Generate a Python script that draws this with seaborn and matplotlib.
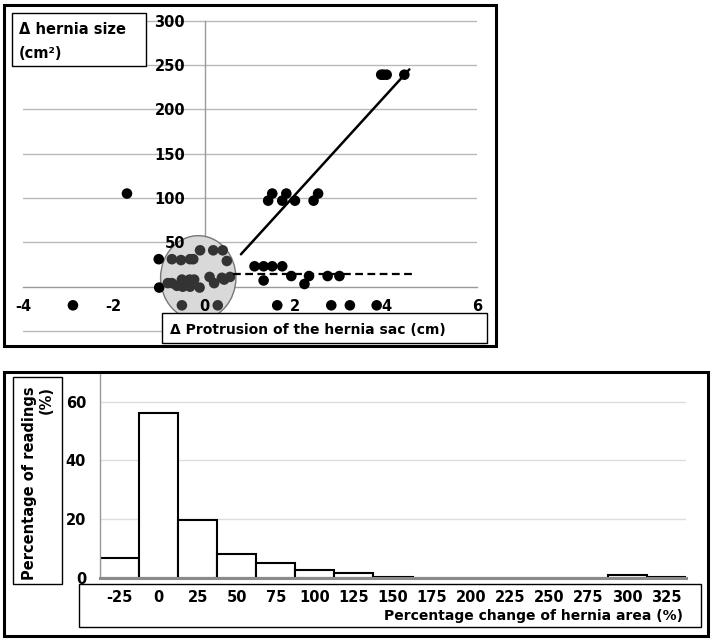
import matplotlib
matplotlib.use("Agg")
import matplotlib.pyplot as plt
from matplotlib.patches import Ellipse, Rectangle
import seaborn as sns

# ========================== Data ==================================
# top panel: change in protrusion (cm) vs change in hernia size (cm2)
circle_x = [-0.72, -0.52, -0.32, -0.25, -0.10, 0.19, 0.40, 0.49,
            -0.81, -0.72, -0.61, -0.50, -0.48, -0.33, -0.32, -0.23, -0.11,
            0.11, 0.21, 0.38, 0.43, 0.56, -0.50, 0.29]
circle_y = [31, 30, 31, 31, 41, 41, 41, 29,
            4, 4, 1, 8, 0, 8, 0, 8, -1,
            11, 4, 10, 8, 11, -21, -21]
other_x = [-2.90, -1.71, -1.01, -1.00,
           1.10, 1.30, 1.49, 1.71, 1.30, 1.91, 2.30, 2.20, 2.71, 2.97,
           1.60, 2.79, 3.20, 3.79,
           1.49, 1.40, 1.80, 1.71, 1.99, 2.40, 2.50,
           3.89, 3.94, 4.01, 4.40]
other_y = [-21, 105, 31, -1,
           23, 23, 23, 23, 7, 12, 12, 3, 12, 12,
           -21, -21, -21, -21,
           105, 97, 105, 97, 97, 97, 105,
           239, 239, 239, 239]
fit_up_x = [0.80, 4.51]
fit_up_y = [36.5, 245]
fit_flat_x = [0.63, 4.59]
fit_flat_y = [14.3, 14.3]
top_grid = [-50, 50, 100, 150, 200, 250, 300]

# bottom panel: histogram of percentage change of hernia area
bin_labels = ["-25", "0", "25", "50", "75", "100", "125", "150", "175",
              "200", "225", "250", "275", "300", "325"]
pct_readings = [6.6, 56.0, 19.7, 8.0, 5.1, 2.7, 1.6, 0.35, 0, 0, 0, 0, 0, 0.9, 0.35]

# ========================== Style =================================
sns.set_style("white")
plt.rcParams["font.family"] = ["DejaVu Sans"]
plt.rcParams["font.weight"] = "bold"
plt.rcParams["text.color"] = "black"
plt.rcParams["xtick.labelcolor"] = "black"
plt.rcParams["ytick.labelcolor"] = "black"

W, H = 713, 641
fig = plt.figure(figsize=(W / 100, H / 100), dpi=100)


def fx(px):
    return px / W


def fy(py):
    return 1 - py / H


def box(x0, y0, x1, y1, lw=1.0, fill=True):
    fig.patches.append(Rectangle((fx(x0), fy(y1)), fx(x1) - fx(x0), fy(y0) - fy(y1),
                                 transform=fig.transFigure, facecolor="white" if fill else "none",
                                 edgecolor="black", lw=lw, zorder=5))


# ========================== Top panel =============================
ax1 = fig.add_axes([fx(23), fy(339.9), fx(477) - fx(23), fy(13.5) - fy(339.9)])
ax1.set_xlim(-4, 6)
ax1.set_ylim(-60, 308)
ax1.set_axisbelow(False)

for g in top_grid:
    ax1.axhline(g, color="#b8b8b8", lw=1, zorder=1)

ax1.add_patch(Ellipse((-0.14, 10), 1.66, 95, facecolor="#d9d9d9",
                      edgecolor="#777777", lw=1, zorder=2))
sns.scatterplot(x=other_x, y=other_y, color="black", s=58, edgecolor="none",
                ax=ax1, zorder=3)
sns.scatterplot(x=circle_x, y=circle_y, color="#333333", s=58, edgecolor="none",
                ax=ax1, zorder=3)
sns.lineplot(x=fit_up_x, y=fit_up_y, color="black", lw=1.8, ax=ax1, zorder=4)
ax1.plot(fit_flat_x, fit_flat_y, color="black", lw=1.6, dashes=(3.5, 2), zorder=4)

for s in ["top", "right"]:
    ax1.spines[s].set_visible(False)
for s in ["left", "bottom"]:
    ax1.spines[s].set_position(("data", 0))
    ax1.spines[s].set_color("#999999")
    ax1.spines[s].set_linewidth(1)
    ax1.spines[s].set_zorder(1)
ax1.spines["left"].set_bounds(-55, 300)

ax1.set_xticks([-4, -2, 0, 2, 4, 6])
ax1.set_xticklabels(["-4", "-2", "0", "2", "4", "6"])
ax1.set_yticks([50, 100, 150, 200, 250, 300])
ax1.tick_params(axis="x", direction="out", length=6, color="#999999", pad=3, labelsize=10.5)
ax1.tick_params(axis="y", length=0, pad=14, labelsize=10.5)
ax1.grid(False)
ax1.set_xlabel("")
ax1.set_ylabel("")

# frame and label boxes for the top panel
box(4, 5, 496, 346, lw=2.2, fill=False)
box(12, 13, 146, 66)
fig.text(fx(19), fy(30), "\u0394 hernia size", fontsize=10.5, fontweight="bold",
         va="center", ha="left", zorder=6)
fig.text(fx(19), fy(54), "(cm\u00b2)", fontsize=10.5, fontweight="bold",
         va="center", ha="left", zorder=6)
box(162, 313, 487, 343)
fig.text(fx(170), fy(330), "\u0394 Protrusion of the hernia sac (cm)", fontsize=10,
         fontweight="bold", va="center", ha="left", zorder=6)

# ========================== Bottom panel ==========================
ax2 = fig.add_axes([fx(100), fy(577.7), fx(686) - fx(100), fy(372.4) - fy(577.7)])
sns.barplot(x=bin_labels, y=pct_readings, order=bin_labels, color="white",
            saturation=1, edgecolor="black", linewidth=1.5, width=1, ax=ax2)
ax2.set_xlim(-0.5, 14.5)
ax2.set_ylim(0, 70)
ax2.set_axisbelow(True)
ax2.yaxis.grid(True, color="#dddddd", lw=1)
ax2.set_yticks([0, 20, 40, 60])
for s in ["top", "right"]:
    ax2.spines[s].set_visible(False)
ax2.spines["left"].set_color("#999999")
ax2.spines["left"].set_linewidth(1)
ax2.spines["bottom"].set_color("#8a8a8a")
ax2.spines["bottom"].set_linewidth(2.2)
ax2.tick_params(axis="x", length=0, pad=9, labelsize=10.5)
ax2.tick_params(axis="y", length=0, pad=10, labelsize=10.5)
ax2.set_xlabel("")
ax2.set_ylabel("")

box(4, 372, 708, 636, lw=2.2, fill=False)
box(13, 377, 62, 584, fill=False)
fig.text(fx(38), fy(483), "Percentage of readings\n(%)", rotation=90, fontsize=10.5,
         fontweight="bold", ha="center", va="center", multialignment="right",
         linespacing=1.2, zorder=6)
box(79, 584, 701, 627, fill=False)
fig.text(fx(683), fy(616), "Percentage change of hernia area (%)", fontsize=10,
         fontweight="bold", ha="right", va="center", zorder=6)

fig.savefig("out.png", dpi=100)
